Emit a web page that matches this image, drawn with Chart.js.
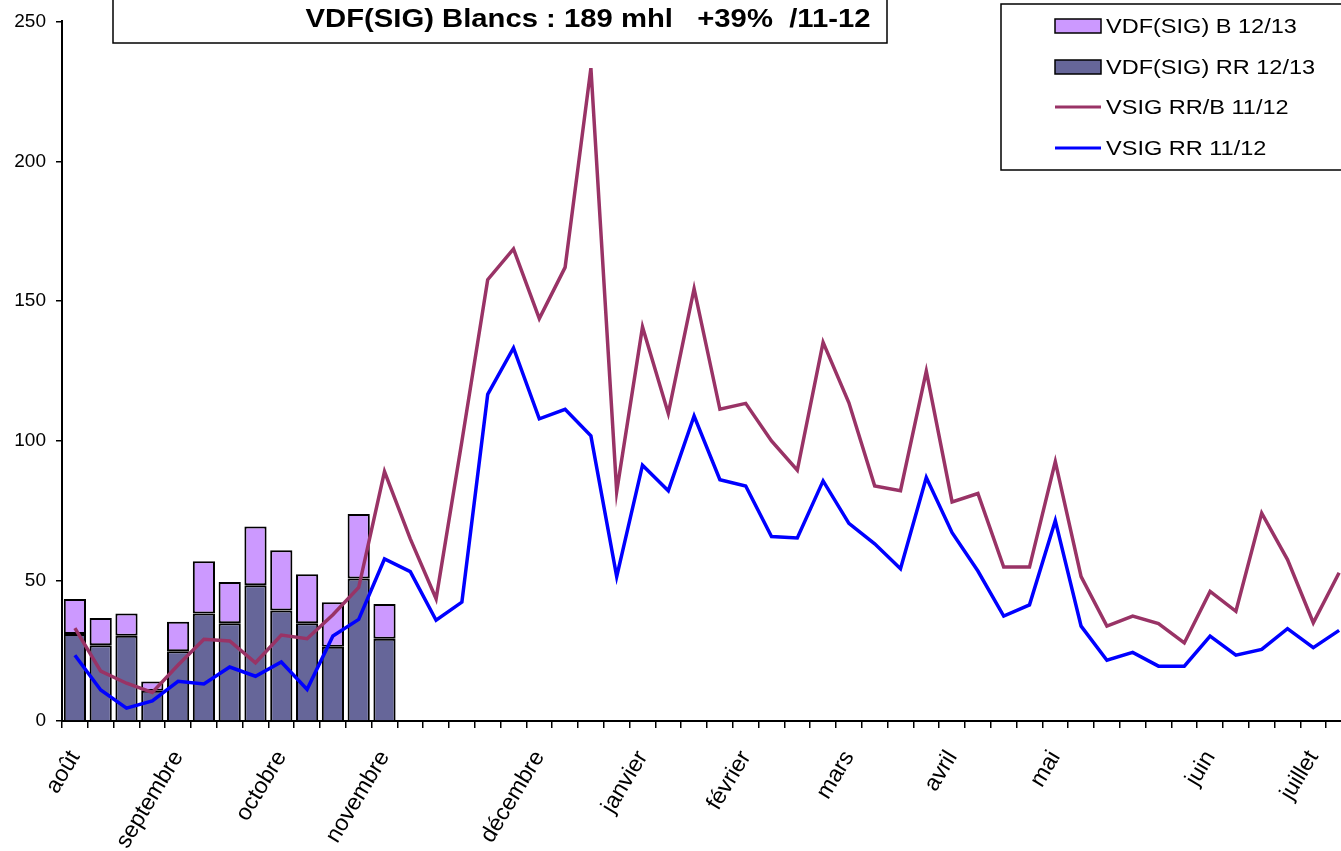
<!DOCTYPE html>
<html>
<head>
<meta charset="utf-8">
<script src="https://cdn.jsdelivr.net/npm/chart.js@4"></script>
<style>
  html, body { margin: 0; padding: 0; background: #fff; overflow: hidden; }
</style>
</head>
<body>
<canvas id="chart" width="1360" height="851"></canvas>
<script>
const FONT = "'Liberation Sans', Arial, sans-serif";

// one category per week, august -> july; month names only on some weeks
const weekLabels = [
    'août', '', '', '', 'septembre', '', '', '', 'octobre', '', '', '', 'novembre', '', '', '', '', '',
    'décembre', '', '', '', 'janvier', '', '', '', 'février', '', '', '', 'mars', '', '', '', 'avril', '', '', '',
    'mai', '', '', '', '', '', 'juin', '', '', '', 'juillet', '',
];

// 12/13 campaign (bars): RR part and total with B
const rr1213 = [31.1, 27.1, 30.5, 10.8, 24.9, 38.4, 34.9, 48.5, 39.5, 34.9, 26.5, 50.9, 29.4];
const total1213 = [43.6, 36.8, 38.4, 14.1, 35.5, 57.1, 49.7, 69.5, 61.0, 52.4, 42.4, 74.0, 41.8];

// 11/12 campaign (lines)
const rrB1112 = [
    33.2, 17.8, 13.5, 10.2, 20.0, 29.2, 28.6, 20.8, 30.7, 29.4, 38.0, 47.7, 89.1, 65.1, 43.7, 100.0,
    157.7, 168.7, 143.8, 162.1, 233.3, 82.0, 140.8, 109.9, 154.5, 111.4, 113.5, 100.1, 89.6, 135.3,
    113.7, 84.0, 82.3, 125.0, 78.3, 81.3, 55.0, 55.0, 92.7, 51.6, 33.9, 37.5, 34.8, 27.9, 46.3, 39.2,
    74.3, 57.7, 35.1, 53.0,
];
const rr1112 = [
    23.5, 11.1, 4.6, 7.2, 14.2, 13.2, 19.3, 16.0, 21.1, 11.3, 30.4, 36.3, 57.9, 53.4, 36.0, 42.5,
    116.7, 133.3, 108.0, 111.4, 101.9, 51.6, 91.4, 82.3, 109.0, 86.2, 84.0, 65.9, 65.4, 85.8, 70.6,
    63.3, 54.4, 87.0, 67.3, 53.6, 37.5, 41.5, 71.6, 33.9, 21.7, 24.5, 19.6, 19.6, 30.3, 23.5, 25.6,
    33.0, 26.2, 32.4,
];

const titleText = 'VDF(SIG) Blancs : 189 mhl   +39%  /11-12';

const COLORS = {
    b: '#CC99FF',
    rr: '#666699',
    rrB: '#993366',
    rrLine: '#0000FF',
};

function stretchedText(ctx, text, x, y, sx) {
    ctx.save();
    ctx.translate(x, y);
    ctx.scale(sx, 1);
    ctx.fillText(text, 0, 0);
    ctx.restore();
}

// title box and boxed legend, drawn over the plot like the original sheet
const decorations = {
    id: 'decorations',
    afterDraw(chart) {
        const ctx = chart.ctx;
        ctx.save();
        ctx.lineWidth = 1.5;
        ctx.strokeStyle = '#000';

        ctx.fillStyle = '#fff';
        ctx.fillRect(113, -3, 774, 46);
        ctx.strokeRect(113, -3, 774, 46);
        ctx.fillStyle = '#000';
        ctx.font = `bold 25px ${FONT}`;
        ctx.textBaseline = 'middle';
        ctx.textAlign = 'center';
        stretchedText(ctx, titleText, 588, 20, 1.17);

        ctx.fillStyle = '#fff';
        ctx.fillRect(1001, 4, 420, 166);
        ctx.strokeRect(1001, 4, 420, 166);

        ctx.font = `21px ${FONT}`;
        ctx.textAlign = 'left';
        const rows = chart.data.datasets.map((ds, i) => ({ ds, y: [26, 67, 107, 148][i] }));
        for (const { ds, y } of rows) {
            if (ds.type === 'bar') {
                ctx.fillStyle = ds.backgroundColor;
                ctx.fillRect(1055, y - 7, 46, 14);
                ctx.lineWidth = 1.5;
                ctx.strokeStyle = '#000';
                ctx.strokeRect(1055, y - 7, 46, 14);
            } else {
                ctx.lineWidth = 3;
                ctx.strokeStyle = ds.borderColor;
                ctx.beginPath();
                ctx.moveTo(1055, y);
                ctx.lineTo(1101, y);
                ctx.stroke();
            }
            ctx.fillStyle = '#000';
            stretchedText(ctx, ds.label, 1106, y + 1, 1.12);
        }
        ctx.restore();
    },
};

const ctx = document.getElementById('chart').getContext('2d');

new Chart(ctx, {
    data: {
        labels: weekLabels,
        datasets: [
            {
                type: 'bar',
                label: 'VDF(SIG) B 12/13',
                data: rr1213.map((v, i) => [v, total1213[i]]),
                backgroundColor: COLORS.b,
                borderColor: '#000',
                borderWidth: 2,
                borderSkipped: false,
                grouped: false,
                categoryPercentage: 1,
                barPercentage: 0.86,
                order: 2,
            },
            {
                type: 'bar',
                label: 'VDF(SIG) RR 12/13',
                data: rr1213,
                backgroundColor: COLORS.rr,
                borderColor: '#000',
                borderWidth: 2,
                grouped: false,
                categoryPercentage: 1,
                barPercentage: 0.86,
                order: 1,
            },
            {
                type: 'line',
                label: 'VSIG RR/B 11/12',
                data: rrB1112,
                borderColor: COLORS.rrB,
                borderWidth: 3.5,
                pointRadius: 0,
                tension: 0,
                order: 0,
            },
            {
                type: 'line',
                label: 'VSIG RR 11/12',
                data: rr1112,
                borderColor: COLORS.rrLine,
                borderWidth: 3.5,
                pointRadius: 0,
                tension: 0,
                order: 0,
            },
        ],
    },
    options: {
        responsive: false,
        animation: false,
        layout: {
            padding: { top: 19, right: 8, left: 0, bottom: 0 },
        },
        plugins: {
            legend: { display: false },
            title: { display: false },
            tooltip: { enabled: false },
        },
        scales: {
            x: {
                type: 'category',
                offset: true,
                afterFit(scale) {
                    scale.height = 130;
                    scale.paddingLeft = 0;
                    scale.paddingRight = 0;
                },
                grid: {
                    offset: true,
                    drawOnChartArea: false,
                    drawTicks: true,
                    tickLength: 7,
                    color: '#000',
                    lineWidth: 1.5,
                },
                border: { display: true, color: '#000', width: 2 },
                ticks: {
                    autoSkip: false,
                    maxRotation: 59,
                    minRotation: 59,
                    padding: 18,
                    color: '#000',
                    font: { family: FONT, size: 23 },
                },
            },
            y: {
                min: 0,
                max: 250,
                afterFit(scale) {
                    scale.width = 62;
                },
                grid: {
                    drawOnChartArea: false,
                    drawTicks: true,
                    tickLength: 6,
                    color: '#000',
                    lineWidth: 1.5,
                },
                border: { display: true, color: '#000', width: 2 },
                ticks: {
                    stepSize: 50,
                    padding: 10,
                    color: '#000',
                    font: { family: FONT, size: 19 },
                },
            },
        },
    },
    plugins: [decorations],
});
</script>
</body>
</html>
